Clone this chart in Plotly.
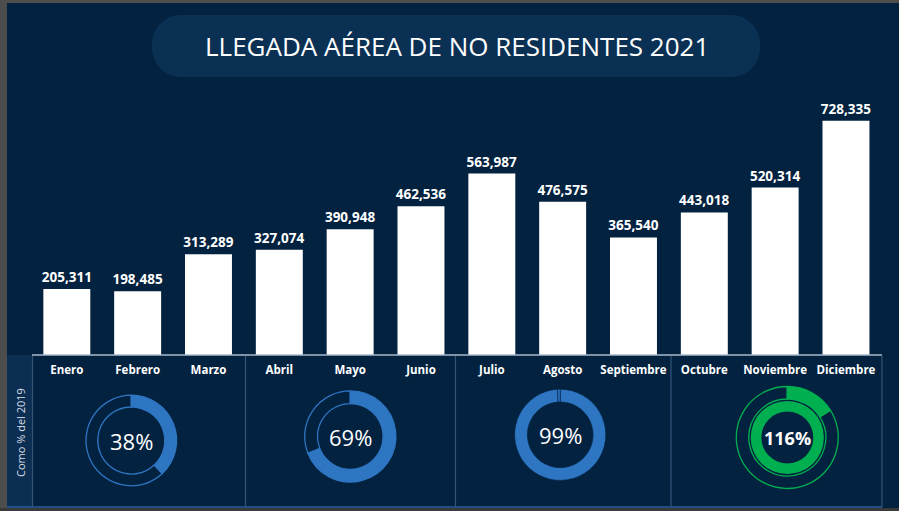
import plotly.graph_objects as go

W, H = 899, 511

meses = ["Enero", "Febrero", "Marzo", "Abril", "Mayo", "Junio",
         "Julio", "Agosto", "Septiembre", "Octubre", "Noviembre", "Diciembre"]
llegadas = [205311, 198485, 313289, 327074, 390948, 462536,
            563987, 476575, 365540, 443018, 520314, 728335]
# % respecto a 2019, un valor por trimestre
pct_2019 = [38, 69, 99, 116]

BG = "#02223F"
PILL = "#0A3053"
STRIP = "#0B2E52"
BLUE = "#2E75C2"
GREEN = "#00B050"
CLEAR = "rgba(0,0,0,0)"


def px(x):
    return x / W


def py(y):
    return 1 - y / H


def dom(cx, cy, r):
    return dict(x=[px(cx - r), px(cx + r)], y=[py(cy + r), py(cy - r)])


fig = go.Figure()

fig.add_trace(go.Bar(x=meses, y=llegadas, marker_color="white",
                     marker_line_width=0, texttemplate="%{y:,}",
                     textposition="outside", constraintext="none",
                     textfont=dict(family="Open Sans", size=13.5, color="white",
                                   weight="bold"),
                     cliponaxis=False, hoverinfo="skip", showlegend=False))

# donuts, one per quarter
centros = [(131.3, 440.5, 45.3, 0.74), (350.3, 436.5, 45.6, 0.72),
           (560.2, 434.8, 45.6, 0.72), (787.3, 437.5, 51.0, 0.755)]
anns = []
for p, (cx, cy, r, hole) in zip(pct_2019, centros):
    if p <= 100:
        if p >= 99:
            colors, line_c, lw = [BLUE, BLUE], BG, 0.6
        else:
            colors, line_c, lw = [BLUE, CLEAR], BLUE, 1.3
        fig.add_trace(go.Pie(values=[p, 100 - p], hole=hole, sort=False,
                             direction="clockwise", rotation=0,
                             marker=dict(colors=colors,
                                         line=dict(color=line_c, width=lw)),
                             textinfo="none", hoverinfo="skip",
                             showlegend=False, domain=dom(cx, cy, r)))
        txt = dict(text=f"{p}%", font=dict(family="Open Sans", size=22,
                                            color="white"))
    else:
        fig.add_trace(go.Pie(values=[p - 100, 200 - p], hole=hole, sort=False,
                             direction="clockwise", rotation=0,
                             marker=dict(colors=[GREEN, CLEAR],
                                         line=dict(color=GREEN, width=1.3)),
                             textinfo="none", hoverinfo="skip",
                             showlegend=False, domain=dom(cx, cy, r)))
        fig.add_trace(go.Pie(values=[100], hole=0.71, sort=False,
                             marker=dict(colors=[GREEN], line=dict(width=0)),
                             textinfo="none", hoverinfo="skip",
                             showlegend=False, domain=dom(cx, cy, 36.6)))
        txt = dict(text=f"<b>{p}%</b>", font=dict(family="Open Sans", size=18,
                                                   color="white"))
    anns.append(dict(x=px(cx), y=py(cy), xref="paper", yref="paper",
                     showarrow=False, xanchor="center", yanchor="middle", **txt))

anns.append(dict(x=px(20), y=py(433), xref="paper", yref="paper",
                 xanchor="center", yanchor="middle",
                 text="Como % del 2019", textangle=-90, showarrow=False,
                 font=dict(family="Open Sans", size=11, color="#D8DEE6")))
anns.append(dict(x=px(456.5), y=py(46.5), xref="paper", yref="paper",
                 xanchor="center", yanchor="middle",
                 text="LLEGADA AÉREA DE NO RESIDENTES 2021", showarrow=False,
                 font=dict(family="Open Sans", size=26, color="white")))

# rounded title box (bezier quarter circles)
x0, x1, y0, y1, rr = 152, 760, 15, 77, 29
k = rr * (1 - 0.5523)
pill = (f"M {px(x0 + rr)},{py(y0)} L {px(x1 - rr)},{py(y0)} "
        f"C {px(x1 - k)},{py(y0)} {px(x1)},{py(y0 + k)} {px(x1)},{py(y0 + rr)} "
        f"L {px(x1)},{py(y1 - rr)} "
        f"C {px(x1)},{py(y1 - k)} {px(x1 - k)},{py(y1)} {px(x1 - rr)},{py(y1)} "
        f"L {px(x0 + rr)},{py(y1)} "
        f"C {px(x0 + k)},{py(y1)} {px(x0)},{py(y1 - k)} {px(x0)},{py(y1 - rr)} "
        f"L {px(x0)},{py(y0 + rr)} "
        f"C {px(x0)},{py(y0 + k)} {px(x0 + k)},{py(y0)} {px(x0 + rr)},{py(y0)} Z")

shapes = [
    dict(type="path", path=pill, xref="paper", yref="paper",
         fillcolor=PILL, line_width=0, layer="below"),
    # left label strip
    dict(type="rect", xref="paper", yref="paper", x0=px(7), x1=px(32),
         y0=py(508), y1=py(355), fillcolor=STRIP, line_width=0, layer="below"),
    # baseline
    dict(type="line", xref="paper", yref="paper", x0=px(32), x1=px(882),
         y0=py(355), y1=py(355), line=dict(color="#A9B8CC", width=1.5)),
    dict(type="line", xref="paper", yref="paper", x0=px(7), x1=px(882),
         y0=py(507), y1=py(507), line=dict(color="#2D5F9A", width=1.5)),
    # screen frame
    dict(type="rect", xref="paper", yref="paper", x0=0, x1=px(7),
         y0=0, y1=1, fillcolor="#4D4D4D", line_width=0),
    dict(type="rect", xref="paper", yref="paper", x0=0, x1=1,
         y0=py(3), y1=1, fillcolor="#4D4D4D", line_width=0),
    dict(type="rect", xref="paper", yref="paper", x0=0, x1=1,
         y0=0, y1=py(508), fillcolor="#3A3A3A", line_width=0),
]
for xs in [32.5, 245.5, 455.5, 671, 882]:
    shapes.append(dict(type="line", xref="paper", yref="paper",
                       x0=px(xs), x1=px(xs), y0=py(507), y1=py(356),
                       line=dict(color="#34557A", width=1.2)))

fig.update_layout(
    width=W, height=H, margin=dict(l=0, r=0, t=0, b=0),
    paper_bgcolor=BG, plot_bgcolor=BG, bargap=0.337,
    xaxis=dict(domain=[px(31.4), px(881.4)], range=[-0.5, 11.5],
               showgrid=False, zeroline=False, showline=False, ticks="",
               ticklabelstandoff=6,
               tickfont=dict(family="Open Sans", size=11.5, color="white",
                             weight="bold")),
    yaxis=dict(domain=[py(355), py(100)], range=[0, 792700], visible=False),
    shapes=shapes, annotations=anns,
)

fig.write_html("out.html", config={"displayModeBar": False},
               post_script="document.body.style.margin='0';"
                           "document.body.style.overflow='hidden';")
